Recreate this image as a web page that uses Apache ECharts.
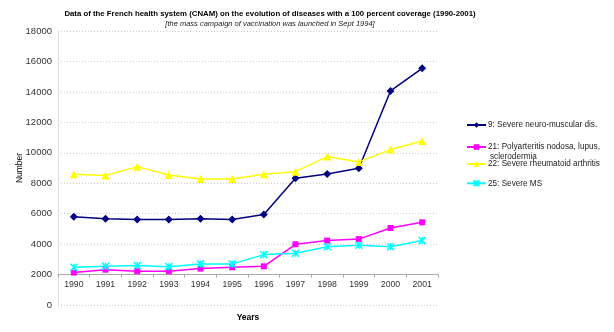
<!DOCTYPE html>
<html><head><meta charset="utf-8">
<script src="https://cdn.jsdelivr.net/npm/echarts@6/dist/echarts.min.js"></script>
<style>html,body{margin:0;padding:0;background:#fff}#c{width:614px;height:332px}</style>
</head><body><div id="c"></div>
<script>
var years = ['1990','1991','1992','1993','1994','1995','1996','1997','1998','1999','2000','2001'];
var neuroMuscular = [5800, 5670, 5610, 5610, 5670, 5610, 5950, 8320, 8600, 8980, 14060, 15550];
var polyarteritis = [2130, 2320, 2220, 2220, 2390, 2480, 2540, 3990, 4230, 4330, 5060, 5430];
var rheumatoid = [8590, 8500, 9090, 8540, 8280, 8280, 8590, 8760, 9750, 9400, 10210, 10780];
var severeMS = [2480, 2540, 2600, 2520, 2700, 2700, 3310, 3400, 3830, 3920, 3830, 4230];
var seriesNames = ['9: Severe neuro-muscular dis.', '21: Polyarteritis nodosa, lupus,', '22: Severe rheumatoid arthritis', '25: Severe MS'];
var yTicks = [0, 2000, 4000, 6000, 8000, 10000, 12000, 14000, 16000, 18000];

var FONT = 'Liberation Sans, Arial, sans-serif';
var colors = ['#000080', '#FF00FF', '#FFFF00', '#00FFFF'];
var starPath = 'path://M0,0L10,10M10,0L0,10M5,0L5,10';
var chart = echarts.init(document.getElementById('c'), null, {renderer: 'canvas'});

function mkSeries(name, data, color, symbol, size, extra) {
  var s = {
    name: name, type: 'line', data: data, symbol: symbol, symbolSize: size,
    showAllSymbol: true, animation: false,
    lineStyle: {color: color, width: 1.5},
    itemStyle: {color: color}
  };
  if (extra) Object.assign(s.itemStyle, extra);
  return s;
}

function mkLegend(name, top) {
  return {
    data: [name], left: 466, top: top, orient: 'vertical',
    itemWidth: 19, itemHeight: 7, padding: 0,
    textStyle: {fontFamily: FONT, fontSize: 8.2, color: '#222', padding: [0,0,0,-3]},
    selectedMode: false
  };
}

chart.setOption({
  animation: false,
  title: {
    text: 'Data of the French health system (CNAM) on the evolution of diseases with a 100 percent coverage (1990-2001)',
    subtext: '[the mass campaign of vaccination was launched in Sept 1994]',
    left: 270, top: 10, textAlign: 'center', padding: 0, itemGap: 2,
    textStyle: {fontFamily: FONT, fontSize: 7.8, fontWeight: 'bold', color: '#000'},
    subtextStyle: {fontFamily: FONT, fontSize: 7.5, fontStyle: 'italic', color: '#222'}
  },
  legend: [
    mkLegend(seriesNames[0], 121),
    mkLegend(seriesNames[1], 143),
    mkLegend(seriesNames[2], 160),
    mkLegend(seriesNames[3], 178)
  ],
  graphic: [{
    type: 'text', left: 490, top: 153,
    style: {text: 'sclerodermia', font: '8.2px ' + FONT, fill: '#222'}
  }],
  grid: {left: 58, right: 176, top: 31, bottom: 27, containLabel: false},
  xAxis: {
    type: 'category', data: years, boundaryGap: true,
    offset: -30.4,
    name: 'Years', nameLocation: 'middle', nameGap: 39, nameMoveOverlap: false,
    nameTextStyle: {fontFamily: FONT, fontSize: 8.5, fontWeight: 'bold', color: '#000'},
    axisLine: {lineStyle: {color: '#aaa', width: 1}},
    axisTick: {show: true, length: 3, lineStyle: {color: '#aaa'}},
    axisLabel: {fontFamily: FONT, fontSize: 8.7, color: '#333', margin: 6}
  },
  yAxis: {
    type: 'value', min: yTicks[0], max: yTicks[yTicks.length - 1], interval: yTicks[1] - yTicks[0],
    name: 'Number', nameLocation: 'middle', nameGap: 34, nameRotate: 90, nameMoveOverlap: false,
    nameTextStyle: {fontFamily: FONT, fontSize: 8.5, color: '#000'},
    axisLine: {show: true, lineStyle: {color: '#ddd'}},
    axisTick: {show: false},
    axisLabel: {fontFamily: FONT, fontSize: 9.5, color: '#333', margin: 6, formatter: function (v) { return String(v); }},
    splitLine: {lineStyle: {color: '#ccc', type: [1, 2]}}
  },
  series: [
    mkSeries(seriesNames[0], neuroMuscular, colors[0], 'diamond', 8),
    mkSeries(seriesNames[1], polyarteritis, colors[1], 'rect', 6),
    mkSeries(seriesNames[2], rheumatoid, colors[2], 'triangle', 8),
    mkSeries(seriesNames[3], severeMS, colors[3], starPath, 7, {borderColor: colors[3], borderWidth: 1.5, color: 'none'})
  ]
});
</script></body></html>
